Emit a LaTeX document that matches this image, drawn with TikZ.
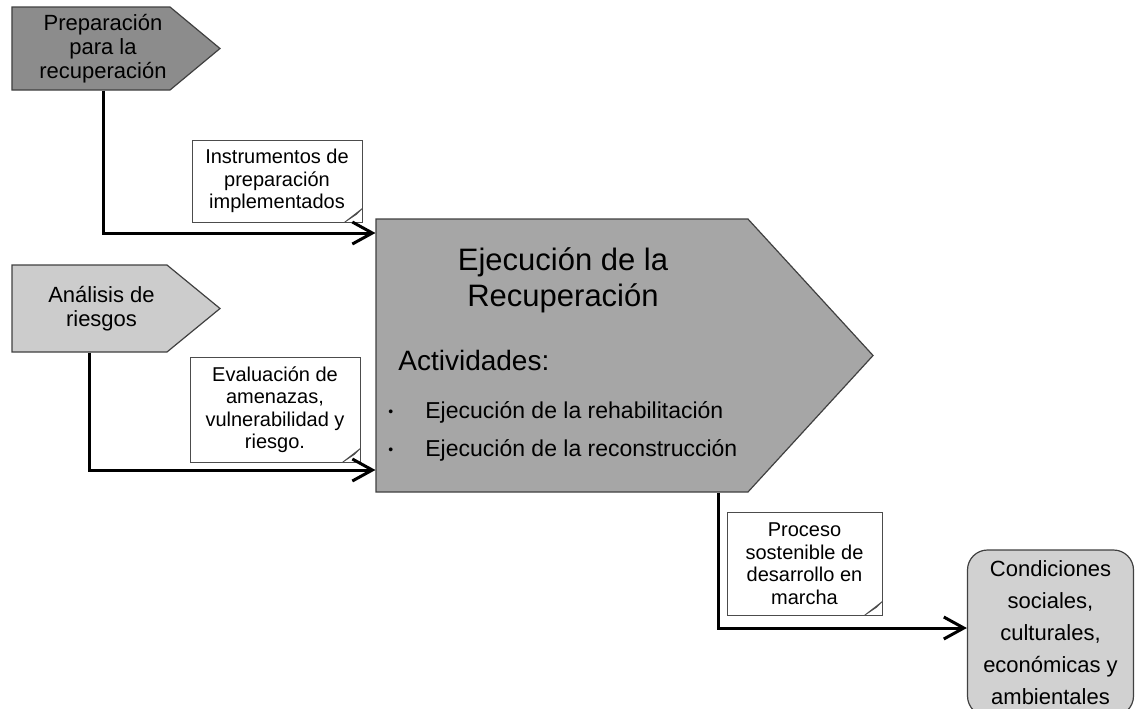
\documentclass[tikz,border=0pt]{standalone}
\usepackage{fontspec}
\setmainfont{Liberation Sans}
\usetikzlibrary{shapes.symbols,arrows.meta}

\tikzset{
  phase/.style={signal, signal to=east, signal from=nowhere, draw=black!75, line width=0.6pt, inner sep=0pt},
  phasetext/.style={label={[align=center, xshift=6pt, font=\fontsize{11}{12}\selectfont]center:#1}},
  note/.style={rectangle, draw=black!70, fill=white, line width=0.4pt, align=center, inner sep=0pt, font=\fontsize{10}{11.25}\selectfont},
  flow/.style={line width=1.5pt, -{Straight Barb[length=10pt,width=11pt,line width=1.5pt]}},
  item/.style={anchor=west, inner sep=0pt, font=\fontsize{11.5}{13}\selectfont},
}
\newcommand{\punto}{\makebox[18.5pt][l]{\raisebox{1pt}{\fontsize{7}{7}\selectfont\textbullet}}}

\begin{document}
\begin{tikzpicture}[x=0.5pt,y=-0.5pt]
\useasboundingbox (0,0) rectangle (1136,708);

\node[phase, fill=black!45, minimum width=104pt, minimum height=41.5pt, signal pointer angle=79.4,
  phasetext={Preparación\\para la\\recuperación}] (prep) at (91,48.5) {};
\node[phase, fill=black!20, minimum width=104pt, minimum height=43.5pt, signal pointer angle=78.7,
  phasetext={Análisis de\\riesgos}] (riesgo) at (89.5,308.5) {};
\node[phase, fill=black!35, minimum width=248.5pt, minimum height=136.5pt, signal pointer angle=95] (ejec) at (562,355.5) {};
\node[rectangle, rounded corners=10pt, draw=black!75, fill=black!18, line width=0.6pt, align=center, inner sep=0pt,
  minimum width=83pt, minimum height=83pt, font=\fontsize{11}{16}\selectfont] (cond) at (1050.5,633)
{Condiciones\\sociales,\\culturales,\\económicas y\\ambientales};

% texto de la fase central
\node[align=center, inner sep=0pt, font=\fontsize{15.5}{18}\selectfont] (titulo) at (563,280) {Ejecución de la\\Recuperación};
\node[anchor=west, inner sep=0pt, font=\fontsize{14}{16}\selectfont] (activ) at (398,360) {Actividades:};
\node[item] (rehab) at (388,412) {\punto Ejecución de la rehabilitación};
\node[item] (recon) at (388,450) {\punto Ejecución de la reconstrucción};

\node[note, minimum width=85pt, minimum height=41pt] (instr) at (277,181) {Instrumentos de\\preparación\\implementados};
\node[note, minimum width=85pt, minimum height=52.5pt] (evalu) at (275,409.5) {Evaluación de\\amenazas,\\vulnerabilidad y\\riesgo.};
\node[note, minimum width=77.5pt, minimum height=51.5pt] (proc) at (804.5,563.5) {Proceso\\sostenible de\\desarrollo en\\marcha};
\foreach \n in {instr,evalu,proc}
  \draw[black!70, line width=0.4pt] ([xshift=-9pt]\n.south east) -- ([xshift=-3pt,yshift=4pt]\n.south east) -- ([yshift=7pt]\n.south east) -- cycle;

\draw[flow] ([xshift=6pt]prep.south) |- ([yshift=61.25pt]ejec.west);
\draw[flow] (riesgo.south) |- ([yshift=-57.25pt]ejec.west);
\draw[flow] ([xshift=78pt]ejec.south) |- ([yshift=2.5pt]cond.west);
\end{tikzpicture}
\end{document}
